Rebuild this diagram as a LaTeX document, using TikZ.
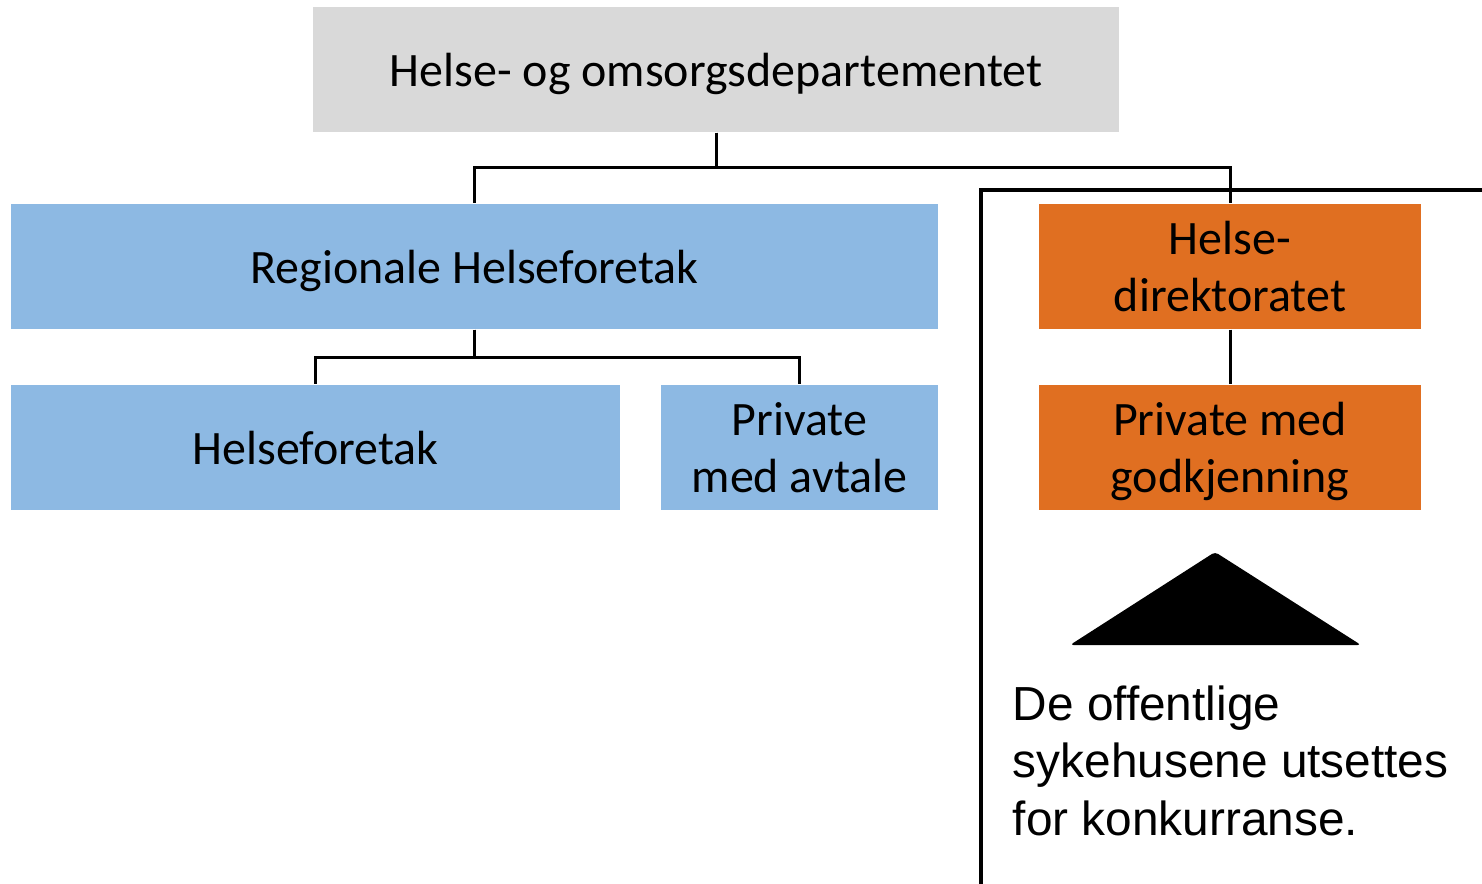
\documentclass[tikz,border=0pt]{standalone}
\usepackage{fontspec}
\setmainfont{Carlito}
\newfontfamily\arialfont{Liberation Sans}
\definecolor{hodgray}{HTML}{D9D9D9}
\definecolor{rhfblue}{HTML}{8DB9E3}
\definecolor{dirorange}{HTML}{E06F21}
\begin{document}
\begin{tikzpicture}
                \tikzstyle{box} = [rectangle, minimum width=2.5cm, minimum height=1.25cm, text centered, align=center, inner sep=0pt, text depth=0pt, font=\fontsize{13.65}{16.3}\selectfont, node distance=1.81cm]
                \tikzstyle{link} = [line width=0.85pt]

                \useasboundingbox (0,0) rectangle (14.82,-8.83);

                \node (hod) [box, fill=hodgray, minimum width=8.06cm] at (7.16,-0.695) {Helse- og omsorgsdepartementet};
                \node (rhf) [box, fill=rhfblue, minimum width=9.27cm, node distance=1.97cm, below of=hod, xshift=-2.415cm] {Regionale Helseforetak};
                \node (hf) [box, fill=rhfblue, minimum width=6.09cm, below of=rhf, xshift=-1.59cm] {Helseforetak};
                \node (pma) [box, fill=rhfblue, minimum width=2.77cm, below of=rhf, xshift=3.25cm] {Private\\med avtale};
                \node (hdir) [box, fill=dirorange, minimum width=3.82cm, node distance=1.97cm, below of=hod, xshift=5.14cm] {Helse-\\direktoratet};
                \node (pmg) [box, fill=dirorange, minimum width=3.82cm, below of=hdir] {Private med\\godkjenning};

                % frame round the private side
                \draw [line width=1.15pt] (9.81,-8.95) |- (14.95,-1.90);

                \draw [link] (hod.south) -- ++(0,-0.35) -| (rhf.north);
                \draw [link] (hod.south) -- ++(0,-0.35) -| (hdir.north);
                \draw [link] (rhf.south) -- ++(0,-0.28) -| (hf.north);
                \draw [link] (rhf.south) -- ++(0,-0.28) -| (pma.north);
                \draw [link] (hdir) -- (pmg);

                \fill [rounded corners=1pt] (12.15,-5.52) -- (13.61,-6.45) -- (10.70,-6.45) -- cycle;

                \node (note) [anchor=base west, align=left, inner sep=0pt, font=\arialfont\fontsize{13.6}{16.3}\selectfont] at (10.12,-8.35) {De offentlige\\sykehusene utsettes\\for konkurranse.};
            \end{tikzpicture}
\end{document}
